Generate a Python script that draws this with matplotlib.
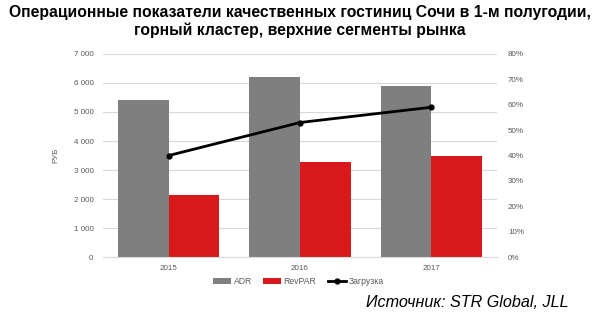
import numpy as np
import matplotlib
matplotlib.use("Agg")
import matplotlib.pyplot as plt
from matplotlib.ticker import FuncFormatter

# data
years = ["2015", "2016", "2017"]
adr = [5410, 6200, 5900]
revpar = [2150, 3270, 3480]
occupancy = [0.40, 0.53, 0.59]

plt.rcParams['font.family'] = ['Liberation Sans', 'DejaVu Sans']

fig = plt.figure(figsize=(6, 3.25), dpi=100)
ax = fig.add_axes([0.172, 0.209, 0.656, 0.625])

x = np.arange(len(years))
w = 0.385
ax.bar(x - w / 2, adr, w, color="#7f7f7f", label="ADR", zorder=2)
ax.bar(x + w / 2, revpar, w, color="#d7191c", label="RevPAR", zorder=2)

ax.set_xlim(-0.5, len(years) - 0.5)
ax.set_ylim(0, 7000)
ax.set_yticks(range(0, 7001, 1000))
ax.yaxis.set_major_formatter(FuncFormatter(lambda v, p: f"{int(v):,}".replace(",", " ")))
ax.set_xticks(x)
ax.set_xticklabels(years)
ax.grid(axis="y", color="#d9d9d9", linewidth=0.8, zorder=0)
ax.tick_params(axis="both", length=0, labelsize=5.8, colors="#595959", pad=6)
ax.tick_params(axis="y", pad=7)
for s in ax.spines.values():
    s.set_visible(False)
ax.spines["bottom"].set_visible(True)
ax.spines["bottom"].set_color("#d9d9d9")
ax.set_ylabel("РУБ", fontsize=5.8, color="#595959", labelpad=10)

ax2 = ax.twinx()
ax2.plot(x, occupancy, color="black", linewidth=2, marker="o", markersize=3.5,
         label="Загрузка", zorder=3)
ax2.set_ylim(0, 0.8)
ax2.set_yticks(np.arange(0, 0.81, 0.1))
ax2.yaxis.set_major_formatter(FuncFormatter(lambda v, p: f"{round(v * 100)}%"))
ax2.tick_params(axis="y", length=0, labelsize=5.8, colors="#595959", pad=8)
for s in ax2.spines.values():
    s.set_visible(False)

h1, l1 = ax.get_legend_handles_labels()
h2, l2 = ax2.get_legend_handles_labels()
fig.legend(h1 + h2, l1 + l2, loc="center", bbox_to_anchor=(0.497, 0.135), ncol=3,
           frameon=False, fontsize=6.2, labelcolor="#595959",
           handlelength=2.1, handleheight=0.7, columnspacing=1.3, handletextpad=0.3)

fig.text(0.5, 0.934, "Операционные показатели качественных гостиниц Сочи в 1-м полугодии,\nгорный кластер, верхние сегменты рынка",
         ha="center", va="center", fontsize=11.3, fontweight="bold", linespacing=1.25)
fig.text(0.947, 0.068, "Источник: STR Global, JLL", ha="right", va="center",
         fontsize=11.6, style="italic")

fig.savefig("out.png", dpi=100)
